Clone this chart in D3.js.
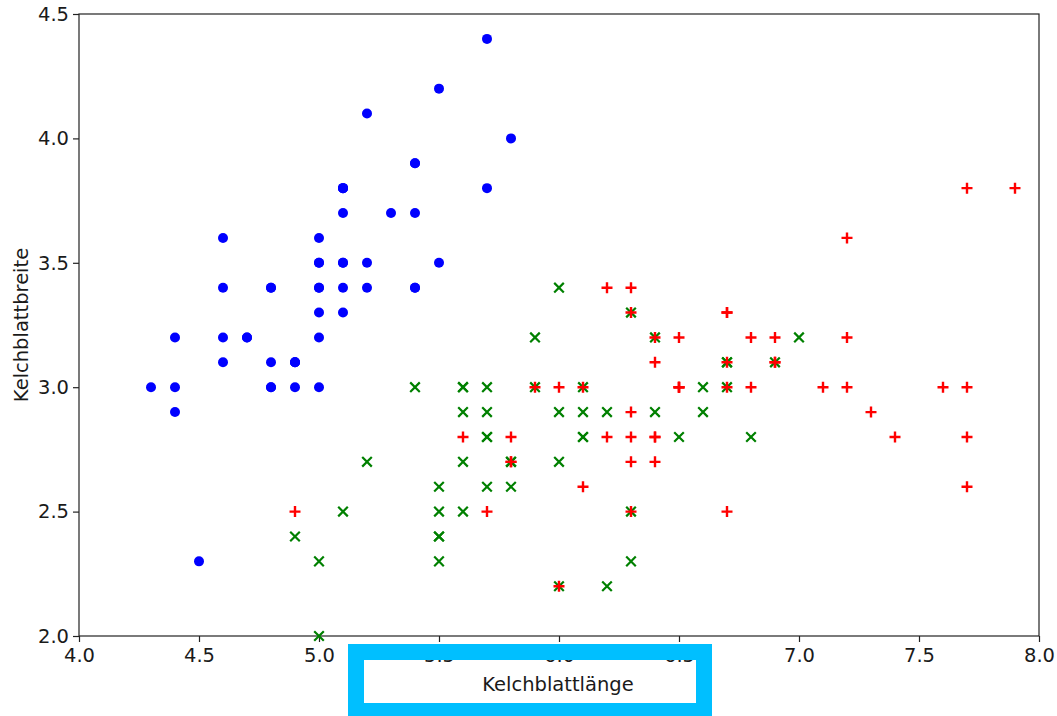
<!DOCTYPE html>
<html>
<head>
<meta charset="utf-8">
<script src="https://cdn.jsdelivr.net/npm/d3@7"></script>
<style>
  body { margin: 0; background: #fff; }
  text { font-family: "DejaVu Sans", sans-serif; fill: #1a1a1a; }
</style>
</head>
<body>
<script>
// sepal length / sepal width per species
const setosaX = [5.1,4.9,4.7,4.6,5.0,5.4,4.6,5.0,4.4,4.9,5.4,4.8,4.8,4.3,5.8,5.7,5.4,5.1,5.7,5.1,5.4,5.1,4.6,5.1,4.8,5.0,5.0,5.2,5.2,4.7,4.8,5.4,5.2,5.5,4.9,5.0,5.5,4.9,4.4,5.1,5.0,4.5,4.4,5.0,5.1,4.8,5.1,4.6,5.3,5.0];
const setosaY = [3.5,3.0,3.2,3.1,3.6,3.9,3.4,3.4,2.9,3.1,3.7,3.4,3.0,3.0,4.0,4.4,3.9,3.5,3.8,3.8,3.4,3.7,3.6,3.3,3.4,3.0,3.4,3.5,3.4,3.2,3.1,3.4,4.1,4.2,3.1,3.2,3.5,3.1,3.0,3.4,3.5,2.3,3.2,3.5,3.8,3.0,3.8,3.2,3.7,3.3];

const versicolorX = [7.0,6.4,6.9,5.5,6.5,5.7,6.3,4.9,6.6,5.2,5.0,5.9,6.0,6.1,5.6,6.7,5.6,5.8,6.2,5.6,5.9,6.1,6.3,6.1,6.4,6.6,6.8,6.7,6.0,5.7,5.5,5.5,5.8,6.0,5.4,6.0,6.7,6.3,5.6,5.5,5.5,6.1,5.8,5.0,5.6,5.7,5.7,6.2,5.1,5.7];
const versicolorY = [3.2,3.2,3.1,2.3,2.8,2.8,3.3,2.4,2.9,2.7,2.0,3.0,2.2,2.9,2.9,3.1,3.0,2.7,2.2,2.5,3.2,2.8,2.5,2.8,2.9,3.0,2.8,3.0,2.9,2.6,2.4,2.4,2.7,2.7,3.0,3.4,3.1,2.3,3.0,2.5,2.6,3.0,2.6,2.3,2.7,3.0,2.9,2.9,2.5,2.8];

const virginicaX = [6.3,5.8,7.1,6.3,6.5,7.6,4.9,7.3,6.7,7.2,6.5,6.4,6.8,5.7,5.8,6.4,6.5,7.7,7.7,6.0,6.9,5.6,7.7,6.3,6.7,7.2,6.2,6.1,6.4,7.2,7.4,7.9,6.4,6.3,6.1,7.7,6.3,6.4,6.0,6.9,6.7,6.9,5.8,6.8,6.7,6.7,6.3,6.5,6.2,5.9];
const virginicaY = [3.3,2.7,3.0,2.9,3.0,3.0,2.5,2.9,2.5,3.6,3.2,2.7,3.0,2.5,2.8,3.2,3.0,3.8,2.6,2.2,3.2,2.8,2.8,2.7,3.3,3.2,2.8,3.0,2.8,3.0,2.8,3.8,2.8,2.8,2.6,3.0,3.4,3.1,3.0,3.1,3.1,3.1,2.7,3.2,3.3,3.0,2.5,3.0,3.4,3.0];

const xTicks = [4.0,4.5,5.0,5.5,6.0,6.5,7.0,7.5,8.0];
const yTicks = [2.0,2.5,3.0,3.5,4.0,4.5];

const xLabel = "Kelchblattlänge";
const yLabel = "Kelchblattbreite";

const drawViz = () => {
    var margin = {top: 14, right: 18, bottom: 80, left: 79},
        width = 1057 - margin.left - margin.right,
        height = 716 - margin.top - margin.bottom;

    var root = d3.select("body")
        .append("svg")
        .attr("width", 1057)
        .attr("height", 716);

    var svg = root.append("g")
        .attr("transform", "translate(" + margin.left + "," + margin.top + ")");

    var x = d3.scaleLinear().domain([4.0, 8.0]).range([0, width]);
    var y = d3.scaleLinear().domain([2.0, 4.5]).range([height, 0]);

    // frame
    svg.append("rect")
       .attr("width", width)
       .attr("height", height)
       .attr("fill", "none")
       .attr("stroke", "#222")
       .attr("stroke-width", 1.2);

    // axes
    var xAxis = svg.append("g")
       .attr("transform", "translate(0," + height + ")")
       .call(d3.axisBottom(x).tickValues(xTicks).tickFormat(d3.format(".1f")).tickSize(6).tickPadding(6));
    var yAxis = svg.append("g")
       .call(d3.axisLeft(y).tickValues(yTicks).tickFormat(d3.format(".1f")).tickSize(6).tickPadding(4));

    [xAxis, yAxis].forEach(function(a) {
        a.select(".domain").remove();
        a.selectAll("line").attr("stroke", "#222").attr("stroke-width", 1.2);
        a.selectAll("text").attr("font-size", "19.5px").attr("font-family", "DejaVu Sans").attr("fill", "#1a1a1a");
    });

    // points: setosa
    svg.append("g").selectAll("circle")
       .data(d3.zip(setosaX, setosaY))
       .enter().append("circle")
       .attr("cx", function(d) { return x(d[0]); })
       .attr("cy", function(d) { return y(d[1]); })
       .attr("r", 5)
       .attr("fill", "blue");

    // versicolor: x markers
    var s = 4.8;
    svg.append("g").selectAll("path")
       .data(d3.zip(versicolorX, versicolorY))
       .enter().append("path")
       .attr("transform", function(d) { return "translate(" + x(d[0]) + "," + y(d[1]) + ")"; })
       .attr("d", "M" + (-s) + "," + (-s) + "L" + s + "," + s + "M" + (-s) + "," + s + "L" + s + "," + (-s))
       .attr("stroke", "green")
       .attr("stroke-width", 2.2)
       .attr("fill", "none");

    // virginica: + markers
    var p = 5.5;
    svg.append("g").selectAll("path")
       .data(d3.zip(virginicaX, virginicaY))
       .enter().append("path")
       .attr("transform", function(d) { return "translate(" + x(d[0]) + "," + y(d[1]) + ")"; })
       .attr("d", "M" + (-p) + ",0L" + p + ",0M0," + (-p) + "L0," + p)
       .attr("stroke", "red")
       .attr("stroke-width", 2.4)
       .attr("fill", "none");

    // axis labels
    root.append("text")
        .attr("x", 558)
        .attr("y", 691)
        .attr("text-anchor", "middle")
        .attr("font-size", "19.5px")
        .text(xLabel);

    root.append("text")
        .attr("transform", "translate(28," + (margin.top + height / 2) + ") rotate(-90)")
        .attr("text-anchor", "middle")
        .attr("font-size", "19.5px")
        .text(yLabel);

    // highlight box around x label
    root.append("rect")
        .attr("x", 356)
        .attr("y", 652)
        .attr("width", 348)
        .attr("height", 59)
        .attr("fill", "none")
        .attr("stroke", "#00bfff")
        .attr("stroke-width", 16);
};

drawViz();
</script>
</body>
</html>
